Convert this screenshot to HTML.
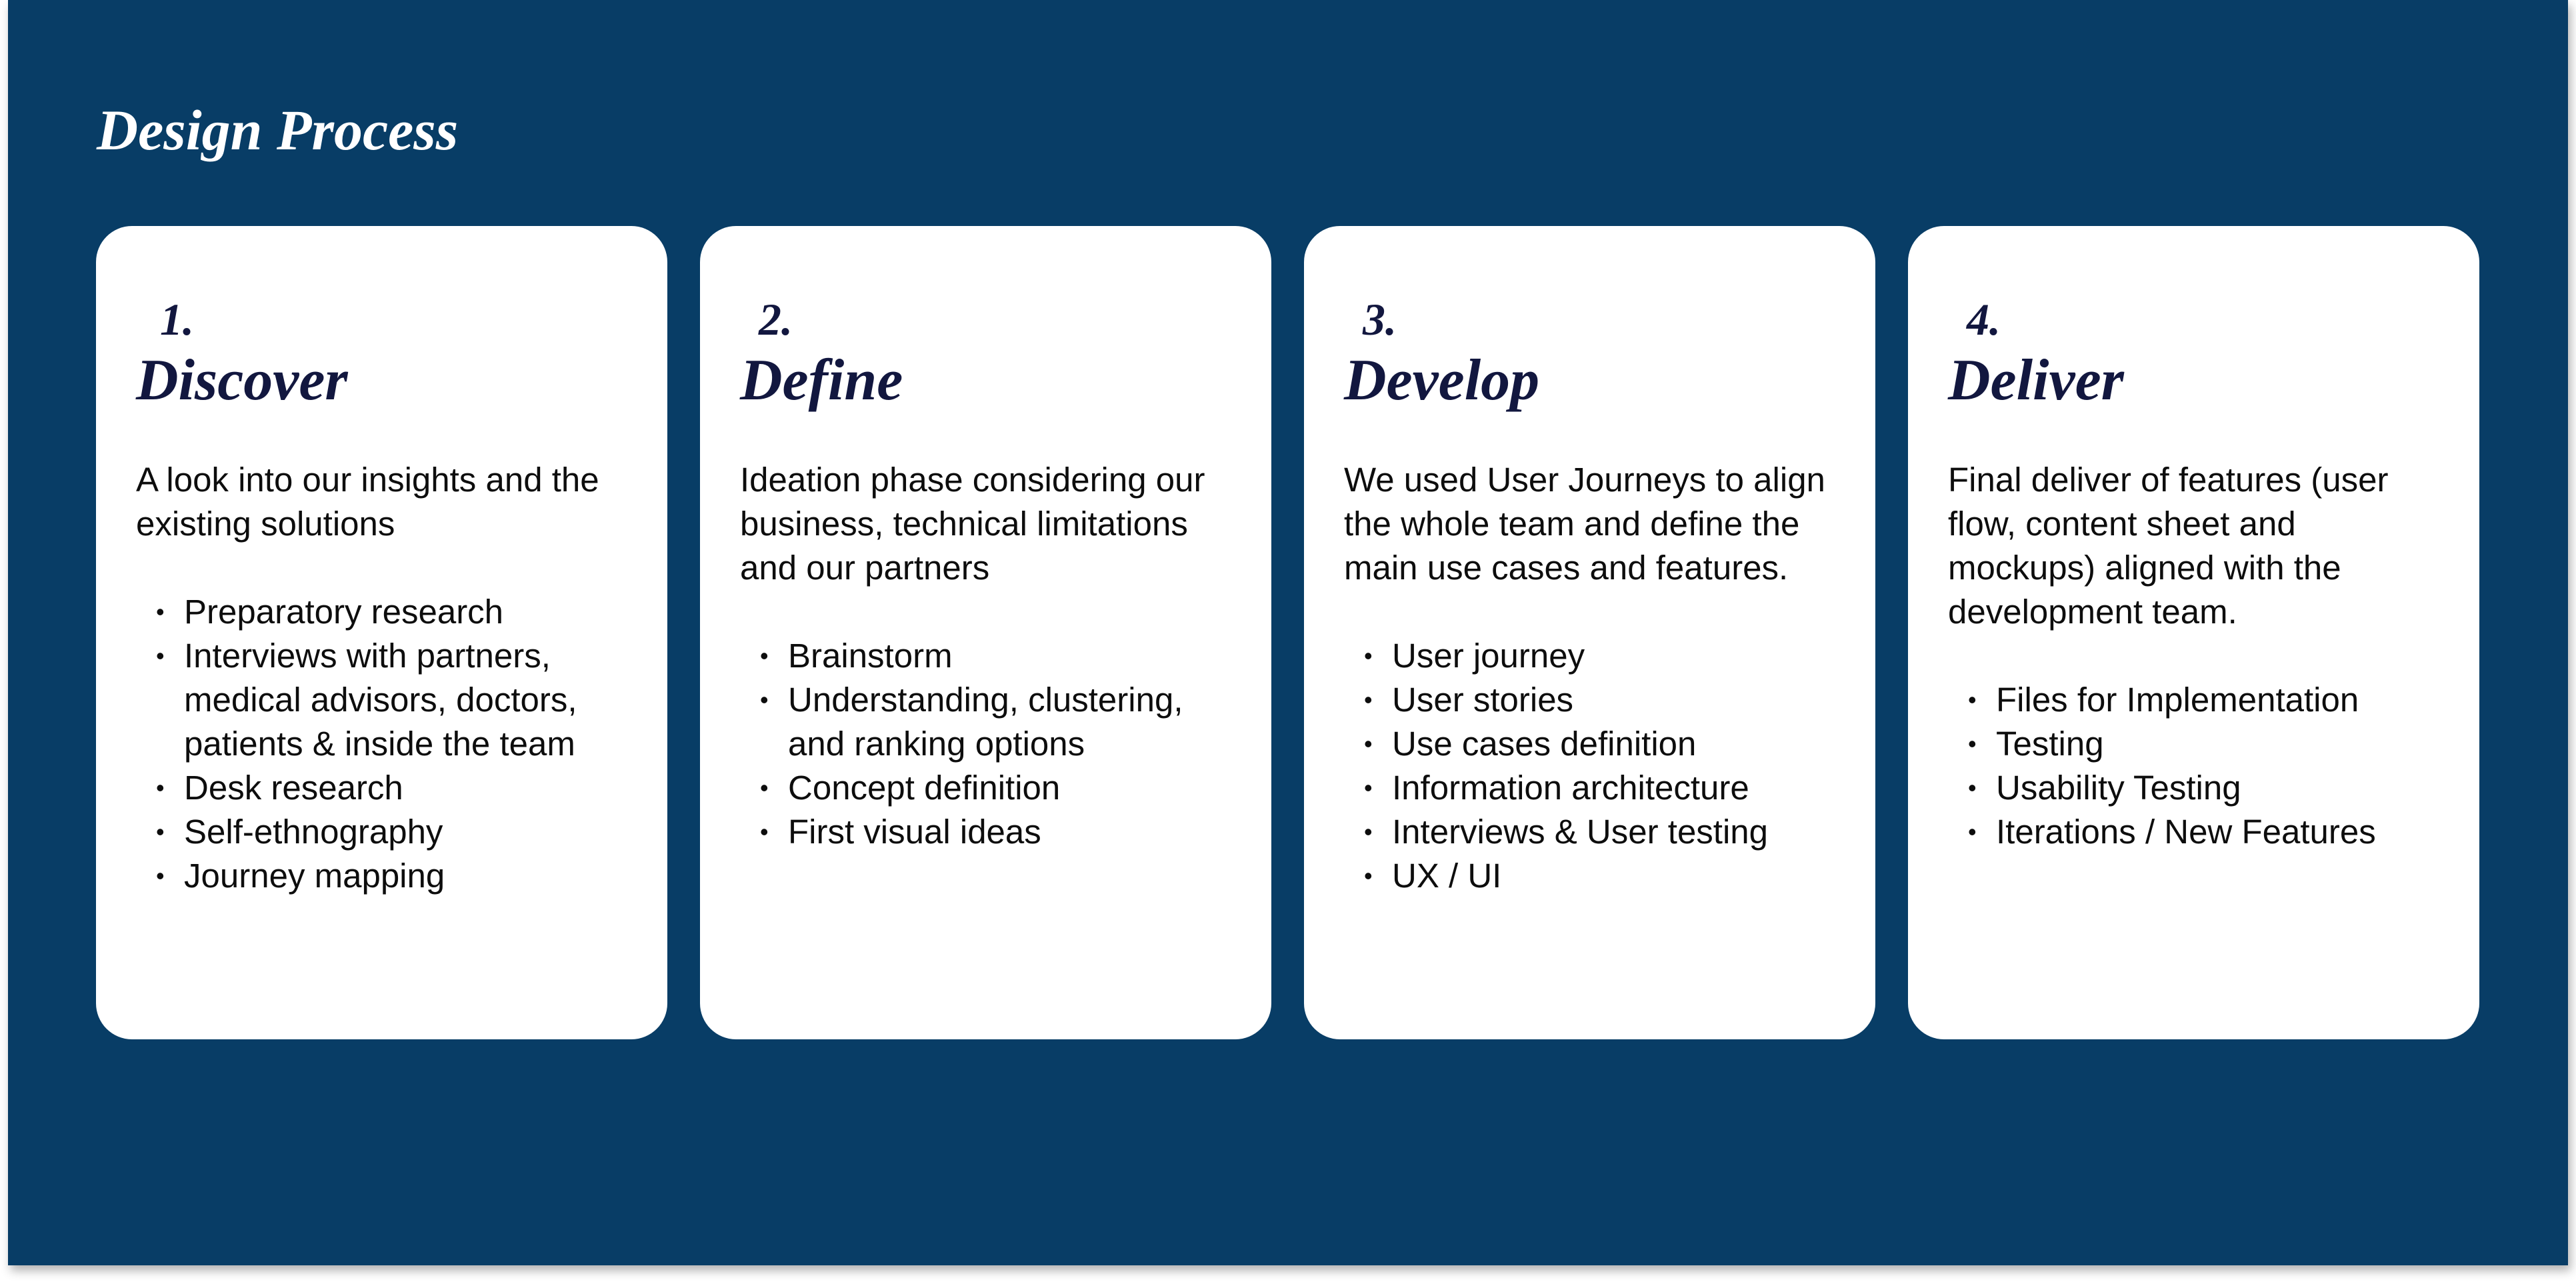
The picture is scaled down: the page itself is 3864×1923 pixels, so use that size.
<!DOCTYPE html>
<html><head><meta charset="utf-8"><style>
html,body{margin:0;padding:0;width:3864px;height:1923px;background:#fff;overflow:hidden;position:relative}
.panel{position:absolute;left:12px;top:0;width:3840px;height:1898px;background:#083d66;box-shadow:4px 8px 14px rgba(0,0,0,0.3)}
.title{position:absolute;left:145px;top:150px;font:italic bold 86px/90px "Liberation Serif",serif;color:#fff;white-space:nowrap}
.card{position:absolute;top:339px;width:857px;height:1220px;background:#fff;border-radius:54px}
.num{position:absolute;left:88px;top:106px;font:italic bold 68px/68px "Liberation Serif",serif;color:#12173f}
.head{position:absolute;left:60px;top:188px;font:italic bold 88px/88px "Liberation Serif",serif;color:#12173f;white-space:nowrap}
.body{position:absolute;left:60px;top:348px;font:51px/66px "Liberation Sans",sans-serif;color:#0d0d0d;white-space:nowrap}
.li{position:relative;padding-left:72px}
.li:before{content:"•";position:absolute;left:30px;top:0;font-size:36px}
.c{padding-left:72px}
</style></head><body>
<div class="panel"></div>
<div class="title">Design Process</div>

<div class="card" style="left:144px">
<div class="num" style="left:96px">1.</div>
<div class="head">Discover</div>
<div class="body">A look into our insights and the<br>existing solutions<br>&nbsp;
<div class="li">Preparatory research</div>
<div class="li">Interviews with partners,</div>
<div class="c">medical advisors, doctors,</div>
<div class="c">patients &amp; inside the team</div>
<div class="li">Desk research</div>
<div class="li">Self-ethnography</div>
<div class="li">Journey mapping</div>
</div></div>

<div class="card" style="left:1050px">
<div class="num">2.</div>
<div class="head">Define</div>
<div class="body">Ideation phase considering our<br>business, technical limitations<br>and our partners<br>&nbsp;
<div class="li">Brainstorm</div>
<div class="li">Understanding, clustering,</div>
<div class="c">and ranking options</div>
<div class="li">Concept definition</div>
<div class="li">First visual ideas</div>
</div></div>

<div class="card" style="left:1956px">
<div class="num">3.</div>
<div class="head">Develop</div>
<div class="body">We used User Journeys to align<br>the whole team and define the<br>main use cases and features.<br>&nbsp;
<div class="li">User journey</div>
<div class="li">User stories</div>
<div class="li">Use cases definition</div>
<div class="li">Information architecture</div>
<div class="li">Interviews &amp; User testing</div>
<div class="li">UX / UI</div>
</div></div>

<div class="card" style="left:2862px">
<div class="num">4.</div>
<div class="head">Deliver</div>
<div class="body">Final deliver of features (user<br>flow, content sheet and<br>mockups) aligned with the<br>development team.<br>&nbsp;
<div class="li">Files for Implementation</div>
<div class="li">Testing</div>
<div class="li">Usability Testing</div>
<div class="li">Iterations / New Features</div>
</div></div>
</body></html>
